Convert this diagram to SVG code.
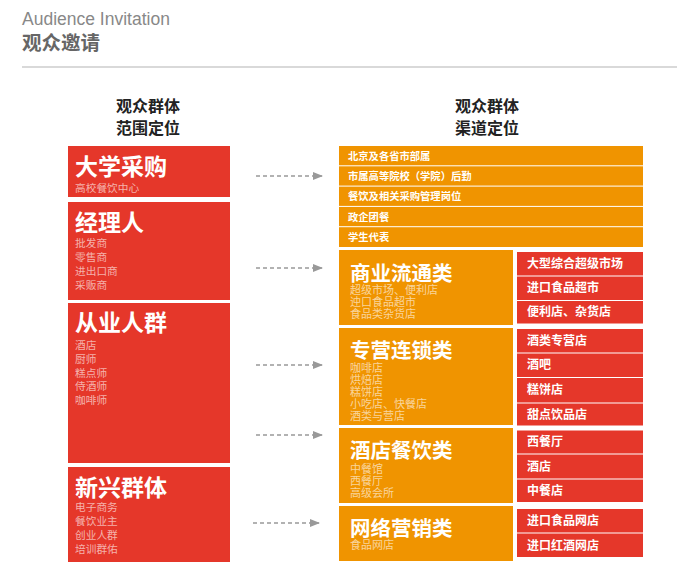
<svg xmlns="http://www.w3.org/2000/svg" width="697" height="580" viewBox="0 0 697 580">
<style>
text{font-family:"Noto Sans CJK SC","Liberation Sans",sans-serif}
.red{fill:#E5372A}
.org{fill:#F09400}
.t{fill:#fff;font-weight:bold;font-size:20.5px}
.tl{fill:#fff;font-weight:bold;font-size:23px}
.s{fill:#fff;fill-opacity:0.62;font-size:11px}
.sl{fill:#fff;fill-opacity:0.62;font-size:10.7px}
.r{fill:#fff;font-weight:bold;font-size:12px}
.l{fill:#fff;font-weight:bold;font-size:10.3px}
.h{fill:#222;font-weight:bold;font-size:16px;text-anchor:middle}
.c{stroke:#999;stroke-width:1.3;stroke-dasharray:4 3;fill:none}
</style>
<defs>
<marker id="ah" markerWidth="10" markerHeight="10" refX="9" refY="5" orient="auto" markerUnits="userSpaceOnUse">
<path d="M0,1 L10,5 L0,9 Z" fill="#999"/>
</marker>
</defs>
<rect width="697" height="580" fill="#fff"/>
<g id="header">
<text x="22" y="25" font-size="17.5" fill="#888" style="font-family:'Liberation Sans',sans-serif">Audience Invitation</text>
<text x="22" y="50" font-size="19.5" font-weight="bold" fill="#666">观众邀请</text>
<line x1="22" y1="67" x2="677" y2="67" stroke="#ccc" stroke-width="1.5"/>
<text class="h" x="148" y="112">观众群体</text>
<text class="h" x="148" y="134">范围定位</text>
<text class="h" x="487" y="112">观众群体</text>
<text class="h" x="487" y="134">渠道定位</text>
</g>
<g id="left1"><rect class="red" x="68" y="146" width="162" height="51"/>
<text class="tl" x="75" y="175">大学采购</text><text class="sl" x="75" y="192">高校餐饮中心</text></g>
<g id="left2"><rect class="red" x="68" y="202" width="162" height="98"/>
<text class="tl" x="75" y="231">经理人</text>
<text class="sl" x="75" y="247">批发商</text><text class="sl" x="75" y="261">零售商</text><text class="sl" x="75" y="275">进出口商</text><text class="sl" x="75" y="289">采贩商</text></g>
<g id="left3"><rect class="red" x="68" y="303" width="162" height="160"/>
<text class="tl" x="75" y="331">从业人群</text>
<text class="sl" x="75" y="349">酒店</text><text class="sl" x="75" y="363">厨师</text><text class="sl" x="75" y="377">糕点师</text><text class="sl" x="75" y="390">侍酒师</text><text class="sl" x="75" y="404">咖啡师</text></g>
<g id="left4"><rect class="red" x="68" y="467" width="162" height="95"/>
<text class="tl" x="75" y="496">新兴群体</text>
<text class="sl" x="75" y="511">电子商务</text><text class="sl" x="75" y="525">餐饮业主</text><text class="sl" x="75" y="539">创业人群</text><text class="sl" x="75" y="553">培训群佑</text></g>
<g id="connectors">
<line class="c" x1="256" y1="176" x2="322" y2="176" marker-end="url(#ah)"/>
<line class="c" x1="256" y1="268" x2="322" y2="268" marker-end="url(#ah)"/>
<line class="c" x1="256" y1="365" x2="322" y2="365" marker-end="url(#ah)"/>
<line class="c" x1="256" y1="435" x2="322" y2="435" marker-end="url(#ah)"/>
<line class="c" x1="253" y1="523" x2="319" y2="523" marker-end="url(#ah)"/>
</g>
<g id="list1">
<rect class="org" x="339" y="146" width="304" height="19.3"/>
<rect class="org" x="339" y="166.3" width="304" height="19.3"/>
<rect class="org" x="339" y="186.6" width="304" height="19.3"/>
<rect class="org" x="339" y="206.9" width="304" height="19.3"/>
<rect class="org" x="339" y="227.2" width="304" height="19.8"/>
<text class="l" x="348" y="160">北京及各省市部属</text>
<text class="l" x="348" y="180">市属高等院校（学院）后勤</text>
<text class="l" x="348" y="200">餐饮及相关采购管理岗位</text>
<text class="l" x="348" y="221">政企团餐</text>
<text class="l" x="348" y="241">学生代表</text>
</g>
<g id="mid1"><rect class="org" x="339" y="250" width="174" height="75"/>
<text class="t" x="350" y="281">商业流通类</text>
<text class="s" x="350" y="294">超级市场、便利店</text><text class="s" x="350" y="306">迚口食品超市</text><text class="s" x="350" y="318">食品类杂货店</text></g>
<g id="mid2"><rect class="org" x="339" y="328" width="174" height="97"/>
<text class="t" x="350" y="358">专营连锁类</text>
<text class="s" x="350" y="372">咖啡店</text><text class="s" x="350" y="384">烘焙店</text><text class="s" x="350" y="396">糕饼店</text><text class="s" x="350" y="408">小吃店、快餐店</text><text class="s" x="350" y="420">酒类与营店</text></g>
<g id="mid3"><rect class="org" x="339" y="428" width="174" height="75"/>
<text class="t" x="350" y="458">酒店餐饮类</text>
<text class="s" x="350" y="473">中餐馆</text><text class="s" x="350" y="485">西餐厅</text><text class="s" x="350" y="497">高级会所</text></g>
<g id="mid4"><rect class="org" x="339" y="506" width="174" height="55"/>
<text class="t" x="350" y="536">网络营销类</text>
<text class="s" x="350" y="549">食品网店</text></g>
<g id="right1">
<rect class="red" x="517" y="252" width="126" height="23.5"/><text class="r" x="527" y="268">大型综合超级市场</text>
<rect class="red" x="517" y="276.5" width="126" height="23.5"/><text class="r" x="527" y="292">进口食品超市</text>
<rect class="red" x="517" y="301" width="126" height="22.5"/><text class="r" x="527" y="316">便利店、杂货店</text>
</g>
<g id="right2">
<rect class="red" x="517" y="329" width="126" height="23.5"/><text class="r" x="527" y="345">酒类专营店</text>
<rect class="red" x="517" y="353.5" width="126" height="23.5"/><text class="r" x="527" y="369">酒吧</text>
<rect class="red" x="517" y="378" width="126" height="24.5"/><text class="r" x="527" y="394">糕饼店</text>
<rect class="red" x="517" y="403.5" width="126" height="22"/><text class="r" x="527" y="419">甜点饮品店</text>
</g>
<g id="right3">
<rect class="red" x="517" y="430.5" width="126" height="23"/><text class="r" x="527" y="446">西餐厅</text>
<rect class="red" x="517" y="454.5" width="126" height="24"/><text class="r" x="527" y="471">酒店</text>
<rect class="red" x="517" y="479.5" width="126" height="22.5"/><text class="r" x="527" y="495">中餐店</text>
</g>
<g id="right4">
<rect class="red" x="517" y="509" width="126" height="23.5"/><text class="r" x="527" y="525">进口食品网店</text>
<rect class="red" x="517" y="533.5" width="126" height="23.5"/><text class="r" x="527" y="550">进口红酒网店</text>
</g>
</svg>
